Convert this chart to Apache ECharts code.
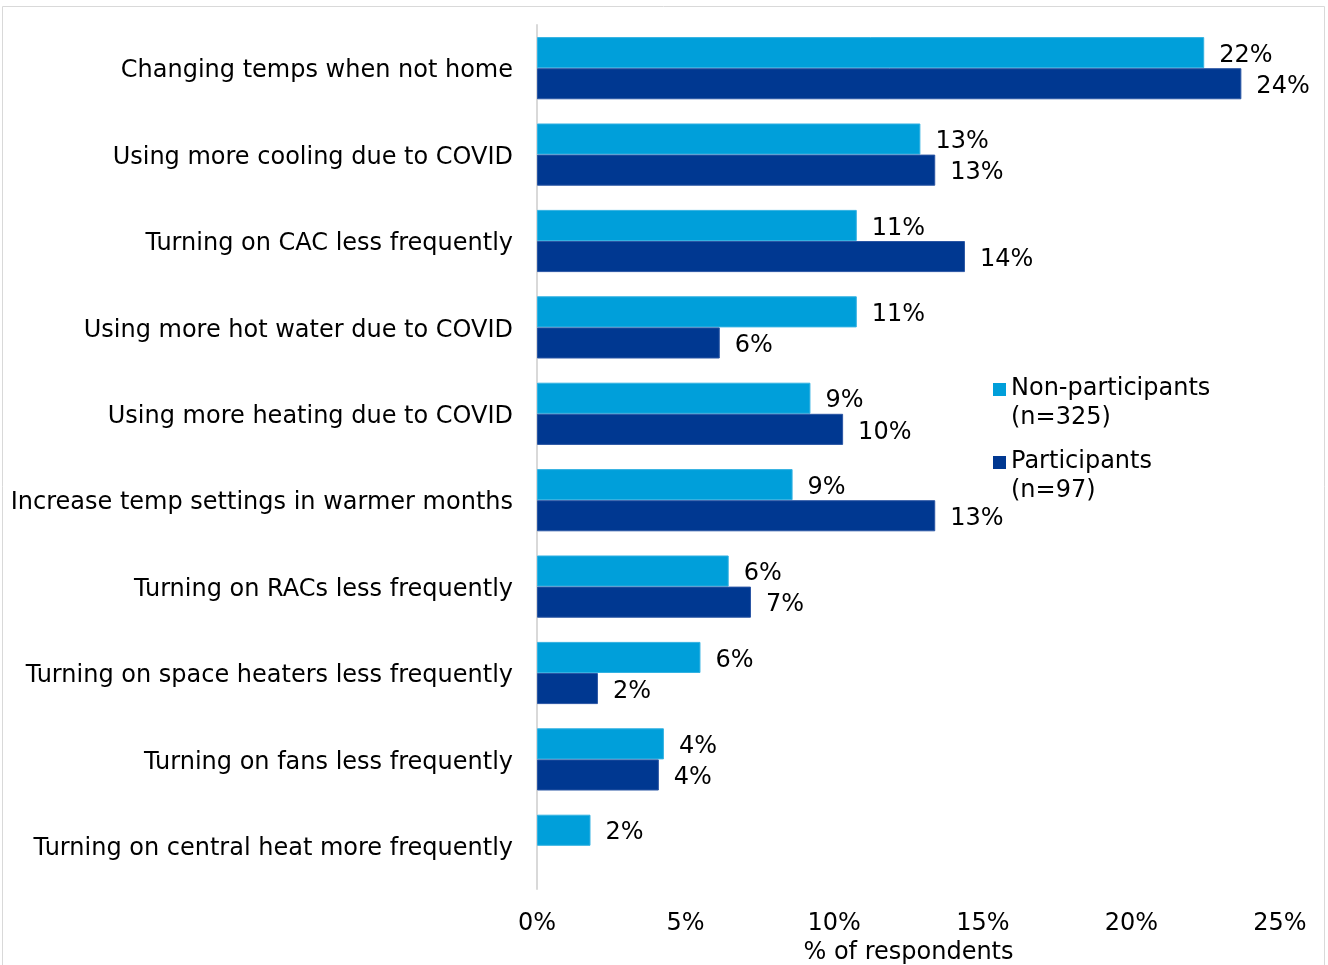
<!DOCTYPE html>
<html>
<head>
<meta charset="utf-8">
<title>Behaviour changes</title>
<script src="https://cdn.jsdelivr.net/npm/echarts@6/dist/echarts.min.js"></script>
<style>
  html, body { margin: 0; padding: 0; background: #fff; }
  #chart { width: 1328px; height: 965px; }
</style>
</head>
<body>
<div id="chart"></div>
<script>
// Categories, top to bottom
const categories = [
  'Changing temps when not home',
  'Using more cooling due to COVID',
  'Turning on CAC less frequently',
  'Using more hot water due to COVID',
  'Using more heating due to COVID',
  'Increase temp settings in warmer months',
  'Turning on RACs less frequently',
  'Turning on space heaters less frequently',
  'Turning on fans less frequently',
  'Turning on central heat more frequently'
];

// Share of respondents (%)
const nonParticipants = [22.45, 12.9, 10.76, 10.76, 9.2, 8.6, 6.45, 5.5, 4.27, 1.8];
const participants    = [23.7, 13.4, 14.4, 6.15, 10.3, 13.4, 7.2, 2.05, 4.1, null];

const seriesNames = ['Non-participants\n(n=325)', 'Participants\n(n=97)'];
const axisTicks = [0, 5, 10, 15, 20, 25];

const FONT = '"DejaVu Sans", Verdana, sans-serif';
const FONT_SIZE = 24;
const COLORS = ['#009fda', '#003891'];
const EDGES = ['#33b2e2', '#2a56a4'];

// Legend marker: square near the top of a tall, otherwise empty box
const legendIcon = 'path://M0,0h0.01v0.01h-0.01zM0,8h13v13h-13zM0,55.99h0.01v0.01h-0.01z';

const chart = echarts.init(document.getElementById('chart'));

const barLabel = {
  show: true,
  position: 'right',
  distance: 15,
  offset: [0, 3],
  fontFamily: FONT,
  fontSize: FONT_SIZE,
  color: '#000',
  formatter: p => Math.round(p.value) + '%'
};

chart.setOption({
  animation: false,
  color: COLORS,
  graphic: [{
    type: 'rect',
    shape: { x: 2.5, y: 6.5, width: 1322, height: 1000 },
    style: { fill: 'none', stroke: '#d9d9d9', lineWidth: 1 },
    silent: true,
    z: -1
  }],
  grid: {
    left: 537, right: 48, top: 25, bottom: 76,
    containLabel: false,
    outerBoundsMode: 'none'
  },
  legend: {
    orient: 'vertical',
    left: 988,
    top: 369,
    icon: legendIcon,
    itemWidth: 13,
    itemHeight: 56,
    itemGap: 15,
    itemStyle: { borderWidth: 0 },
    textStyle: { fontFamily: FONT, fontSize: FONT_SIZE, color: '#000', lineHeight: 29 },
    data: seriesNames
  },
  xAxis: {
    type: 'value',
    min: axisTicks[0],
    max: axisTicks[axisTicks.length - 1],
    interval: axisTicks[1] - axisTicks[0],
    axisLine: { show: false },
    axisTick: { show: false },
    splitLine: { show: false },
    axisLabel: {
      fontFamily: FONT, fontSize: FONT_SIZE, color: '#000', margin: 23,
      formatter: '{value}%'
    },
    name: '% of respondents',
    nameLocation: 'middle',
    nameGap: 50,
    nameTextStyle: { fontFamily: FONT, fontSize: FONT_SIZE, color: '#000' }
  },
  yAxis: {
    type: 'category',
    inverse: true,
    data: categories,
    axisLine: { show: true, lineStyle: { color: '#d9d9d9', width: 2 } },
    axisTick: { show: false },
    axisLabel: {
      fontFamily: FONT, fontSize: FONT_SIZE, color: '#000', margin: 24,
      verticalAlign: 'top', lineHeight: 6
    }
  },
  series: [
    {
      name: seriesNames[0],
      type: 'bar',
      data: nonParticipants,
      barGap: '0%',
      barCategoryGap: '28%',
      itemStyle: { borderColor: EDGES[0], borderWidth: 1 },
      label: barLabel
    },
    {
      name: seriesNames[1],
      type: 'bar',
      data: participants,
      barGap: '0%',
      barCategoryGap: '28%',
      itemStyle: { borderColor: EDGES[1], borderWidth: 1 },
      label: barLabel
    }
  ]
});
</script>
</body>
</html>
